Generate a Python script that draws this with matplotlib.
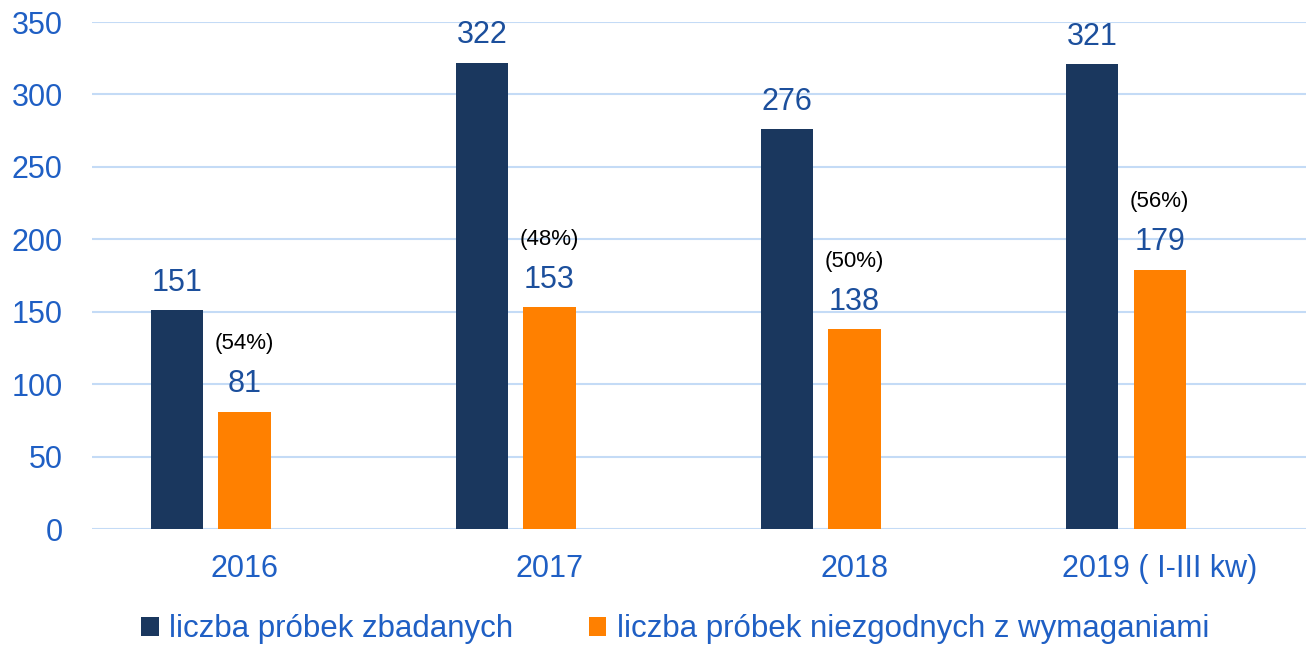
import numpy as np
import matplotlib.pyplot as plt

# Data
years = ["2016", "2017", "2018", "2019 ( I-III kw)"]
zbadane = [151, 322, 276, 321]
niezgodne = [81, 153, 138, 179]
procent = ["(54%)", "(48%)", "(50%)", "(56%)"]

dark = "#1a375e"
orange = "#ff8000"
tick_blue = "#1f5fc4"
val_blue = "#1c4f9c"
grid_col = "#c4dbf6"

plt.rcParams["font.family"] = ["Liberation Sans", "DejaVu Sans"]

fig = plt.figure(figsize=(13.06, 6.46), dpi=100)
ax = fig.add_axes([0.0704, 0.1811, 0.9296, 0.7848])

x = np.arange(len(years))
w = 0.171
b1 = ax.bar(x - 0.222, zbadane, w, color=dark, label="liczba próbek zbadanych", zorder=3)
b2 = ax.bar(x, niezgodne, w, color=orange, label="liczba próbek niezgodnych z wymaganiami", zorder=3)

# etykiety wartosci
for rect, v in zip(b1, zbadane):
    ax.annotate(str(v), (rect.get_x() + rect.get_width() / 2, v), xytext=(0, 14),
                textcoords="offset points", ha="center", va="baseline",
                fontsize=22, color=val_blue)
for rect, v, p in zip(b2, niezgodne, procent):
    cx = rect.get_x() + rect.get_width() / 2
    ax.annotate(str(v), (cx, v), xytext=(0, 14), textcoords="offset points",
                ha="center", va="baseline", fontsize=22, color=val_blue)
    ax.annotate(p, (cx, v), xytext=(0, 45), textcoords="offset points",
                ha="center", va="baseline", fontsize=16, color="black")

ax.set_xlim(-0.5, 3.48)
ax.set_ylim(0, 350)
ax.set_yticks(range(0, 351, 50))
ax.set_xticks(x)
ax.set_xticklabels(years)
ax.yaxis.grid(True, color=grid_col, linewidth=1.5, zorder=0)
ax.set_axisbelow(True)
for s in ax.spines.values():
    s.set_visible(False)
ax.tick_params(axis="both", length=0, labelsize=22, labelcolor=tick_blue)
ax.tick_params(axis="y", pad=21)
ax.tick_params(axis="x", pad=18)

fig.legend(loc="center", bbox_to_anchor=(0.517, 0.026), ncol=2, frameon=False,
           fontsize=22.5, labelcolor=tick_blue, handlelength=0.55, handleheight=0.55,
           handletextpad=0.35, columnspacing=2.4)

plt.savefig("out.png", dpi=100)
